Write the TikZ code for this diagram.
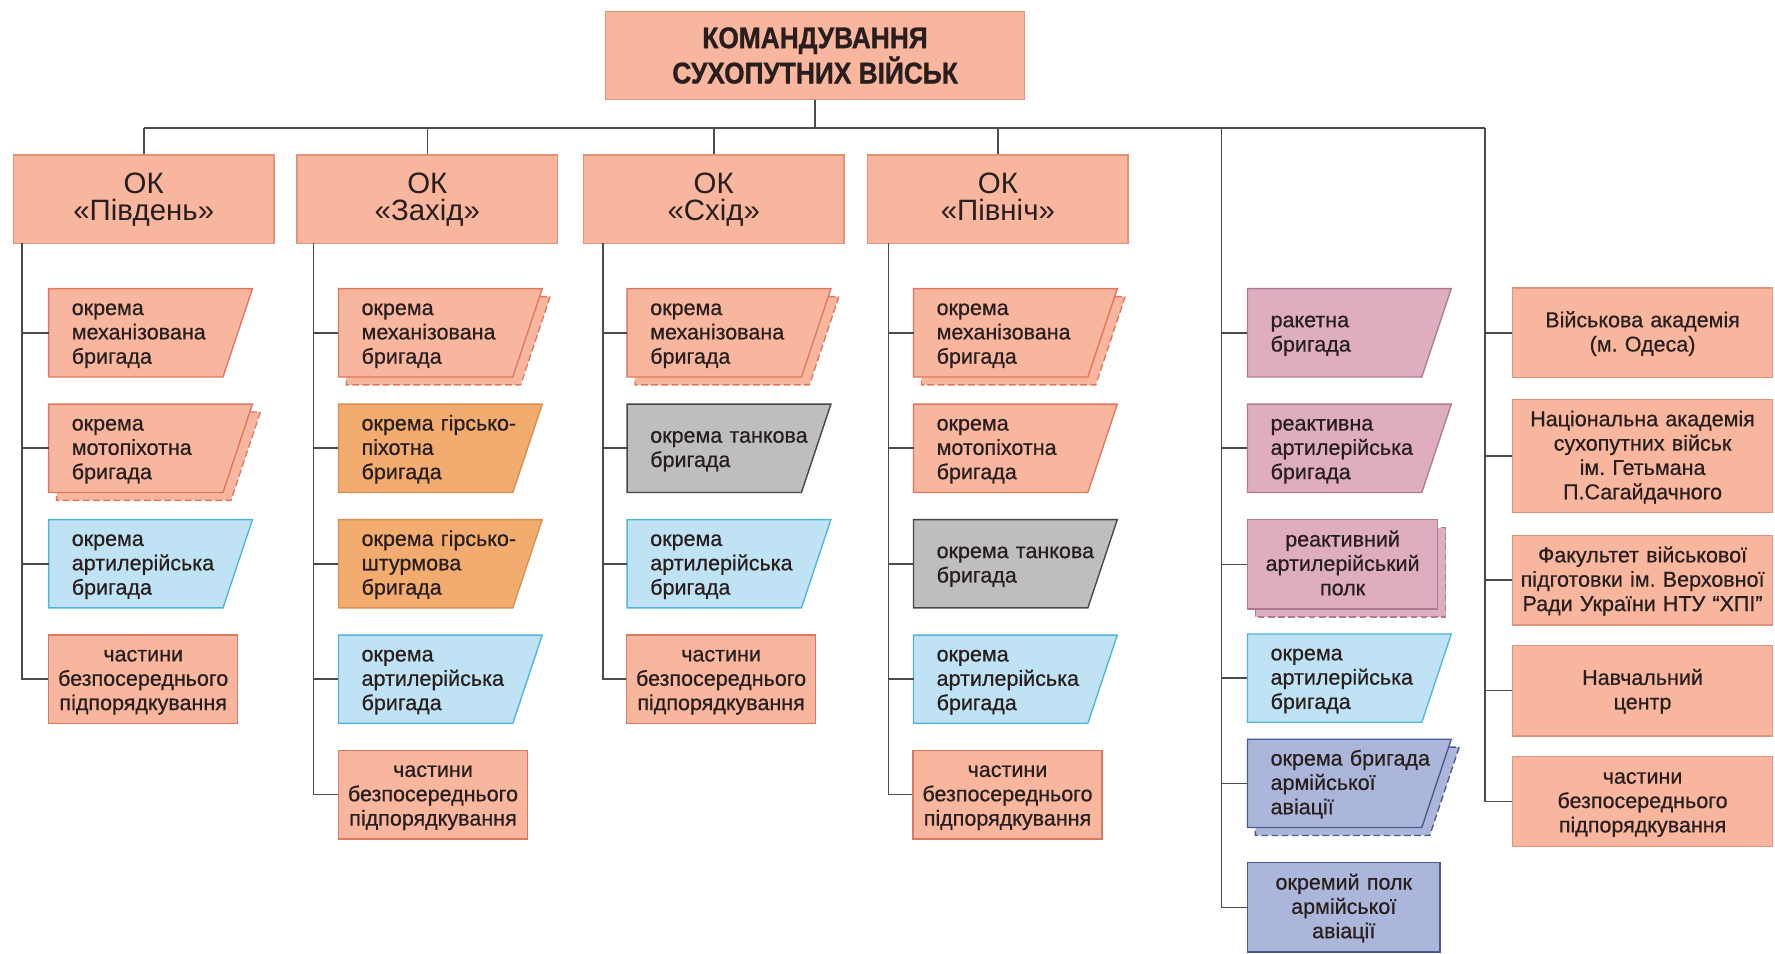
\documentclass[tikz,border=0pt]{standalone}
\usepackage{fontspec}
\setmainfont{Liberation Sans}
\newfontfamily\titlefont[FakeStretch=0.88, FakeBold=1]{Liberation Sans Bold}
\newfontfamily\boxfont[FakeBold=0.6]{Liberation Sans}
\frenchspacing

\begin{document}
\begin{tikzpicture}[x=0.5pt, y=-0.5pt,
    conn/.style={draw=linec, line width=0.7pt},
    salmb/.style={fill=salm, draw=salmd, line width=0.6pt},
    oranb/.style={fill=oran, draw=orand, line width=0.6pt},
    grayb/.style={fill=gray1, draw=grayd, line width=0.6pt},
    blueb/.style={fill=blue1, draw=blued, line width=0.6pt},
    pinkb/.style={fill=pink1, draw=pinkd, line width=0.6pt},
    slateb/.style={fill=slate1, draw=slated, line width=0.6pt},
    shd/.style={shift={(7,7)}, dash pattern=on 3pt off 1.5pt},
    topbox/.style={fill=salm, draw=okd, line width=0.6pt, minimum width=185pt, minimum height=39pt,
        align=center, text=txtc, font={\titlefont\fontsize{13.2}{14}\selectfont}},
    okbox/.style={fill=salm, draw=okd, line width=0.6pt, minimum width=115pt, minimum height=39pt,
        align=center, text=txtc, font=\fontsize{13}{12}\selectfont, execute at end node={\vphantom{д}}},
    ptxt/.style={anchor=west, inner xsep=10pt, inner ysep=0pt, text width=74pt, align=left,
        text=txtc, font=\boxfont\fontsize{9.5}{10.75}\selectfont,
        execute at begin node={\rule{0pt}{9pt}}, execute at end node={\strut}},
    rbox/.style={minimum width=83.5pt, minimum height=39pt, inner xsep=1pt, inner ysep=0pt,
        text width=81.5pt, align=center, text=txtc, font=\boxfont\fontsize{9.5}{10.75}\selectfont,
        execute at begin node={\rule{0pt}{9pt}}, execute at end node={\strut}},
    abox/.style={fill=salm, draw=okd, line width=0.6pt, minimum width=115pt, inner xsep=0.5pt,
        inner ysep=0pt, text width=114pt, align=center, text=txtc,
        font=\boxfont\fontsize{9.5}{10.75}\selectfont,
        execute at begin node={\rule{0pt}{9pt}}, execute at end node={\strut}}]
    \definecolor{salm}{RGB}{248,182,158}
    \definecolor{salmd}{RGB}{222,118,96}
    \definecolor{okd}{RGB}{228,146,122}
    \definecolor{oran}{RGB}{242,172,112}
    \definecolor{orand}{RGB}{222,140,80}
    \definecolor{gray1}{RGB}{190,190,190}
    \definecolor{grayd}{RGB}{70,70,70}
    \definecolor{blue1}{RGB}{191,227,244}
    \definecolor{blued}{RGB}{80,180,222}
    \definecolor{pink1}{RGB}{222,174,192}
    \definecolor{pinkd}{RGB}{176,122,146}
    \definecolor{slate1}{RGB}{172,182,218}
    \definecolor{slated}{RGB}{74,90,140}
    \definecolor{linec}{RGB}{75,75,75}
    \definecolor{txtc}{RGB}{40,30,30}
    \useasboundingbox (0,0) rectangle (1568,842);
    % Command and operational commands
    \node[topbox] (top) at (720,49) {КОМАНДУВАННЯ\\СУХОПУТНИХ ВІЙСЬК};
    \node[okbox] (ok1) at (127,176) {ОК\\«Південь»};
    \node[okbox] (ok2) at (377.5,176) {ОК\\«Захід»};
    \node[okbox] (ok3) at (630.5,176) {ОК\\«Схід»};
    \node[okbox] (ok4) at (881.5,176) {ОК\\«Північ»};
    \coordinate (bus) at (720,113);
    \coordinate (tr) at (1079,113);
    \coordinate (ta) at (1312,113);
    \draw[conn] (top.south) -- (bus);
    \draw[conn] (ok1.north |- bus) -- (ta);
    \draw[conn] (ok1.north) -- (ok1.north |- bus) (ok2.north) -- (ok2.north |- bus)
        (ok3.north) -- (ok3.north |- bus) (ok4.north) -- (ok4.north |- bus);
    % OK "Pivden"
    \draw[salmb, shd] (43,357) -- ++(180,0) -- ++(-26,78) -- ++(-154,0) -- cycle;
    \draw[salmb] (43,255) -- ++(180,0) -- ++(-26,78) -- ++(-154,0) -- cycle;
    \draw[salmb] (43,357) -- ++(180,0) -- ++(-26,78) -- ++(-154,0) -- cycle;
    \draw[blueb] (43,459) -- ++(180,0) -- ++(-26,78) -- ++(-154,0) -- cycle;
    \node[ptxt] (pd1) at (43,294) {окрема\\механізована\\бригада};
    \node[ptxt] (pd2) at (43,396) {окрема\\мотопіхотна\\бригада};
    \node[ptxt] (pd3) at (43,498) {окрема\\артилерійська\\бригада};
    \node[rbox, salmb] (pd4) at (126.5,600) {частини\\безпосереднього\\підпорядкування};
    \coordinate (vpd) at (19.5,215);
    \draw[conn] (vpd) |- (pd1.west) (vpd) |- (pd2.west) (vpd) |- (pd3.west) (vpd) |- (pd4.west);
    % OK "Zakhid"
    \draw[salmb, shd] (299,255) -- ++(180,0) -- ++(-26,78) -- ++(-154,0) -- cycle;
    \draw[salmb] (299,255) -- ++(180,0) -- ++(-26,78) -- ++(-154,0) -- cycle;
    \draw[oranb] (299,357) -- ++(180,0) -- ++(-26,78) -- ++(-154,0) -- cycle;
    \draw[oranb] (299,459) -- ++(180,0) -- ++(-26,78) -- ++(-154,0) -- cycle;
    \draw[blueb] (299,561) -- ++(180,0) -- ++(-26,78) -- ++(-154,0) -- cycle;
    \node[ptxt] (zh1) at (299,294) {окрема\\механізована\\бригада};
    \node[ptxt] (zh2) at (299,396) {окрема гірсько-\\піхотна\\бригада};
    \node[ptxt] (zh3) at (299,498) {окрема гірсько-\\штурмова\\бригада};
    \node[ptxt] (zh4) at (299,600) {окрема\\артилерійська\\бригада};
    \node[rbox, salmb] (zh5) at (382.5,702) {частини\\безпосереднього\\підпорядкування};
    \coordinate (vzh) at (277,215);
    \draw[conn] (vzh) |- (zh1.west) (vzh) |- (zh2.west) (vzh) |- (zh3.west) (vzh) |- (zh4.west)
        (vzh) |- (zh5.west);
    % OK "Skhid"
    \draw[salmb, shd] (554,255) -- ++(180,0) -- ++(-26,78) -- ++(-154,0) -- cycle;
    \draw[salmb] (554,255) -- ++(180,0) -- ++(-26,78) -- ++(-154,0) -- cycle;
    \draw[grayb] (554,357) -- ++(180,0) -- ++(-26,78) -- ++(-154,0) -- cycle;
    \draw[blueb] (554,459) -- ++(180,0) -- ++(-26,78) -- ++(-154,0) -- cycle;
    \node[ptxt] (sh1) at (554,294) {окрема\\механізована\\бригада};
    \node[ptxt] (sh2) at (554,396) {окрема танкова\\бригада};
    \node[ptxt] (sh3) at (554,498) {окрема\\артилерійська\\бригада};
    \node[rbox, salmb] (sh4) at (637,600) {частини\\безпосереднього\\підпорядкування};
    \coordinate (vsh) at (532.5,215);
    \draw[conn] (vsh) |- (sh1.west) (vsh) |- (sh2.west) (vsh) |- (sh3.west) (vsh) |- (sh4.west);
    % OK "Pivnich"
    \draw[salmb, shd] (807,255) -- ++(180,0) -- ++(-26,78) -- ++(-154,0) -- cycle;
    \draw[salmb] (807,255) -- ++(180,0) -- ++(-26,78) -- ++(-154,0) -- cycle;
    \draw[salmb] (807,357) -- ++(180,0) -- ++(-26,78) -- ++(-154,0) -- cycle;
    \draw[grayb] (807,459) -- ++(180,0) -- ++(-26,78) -- ++(-154,0) -- cycle;
    \draw[blueb] (807,561) -- ++(180,0) -- ++(-26,78) -- ++(-154,0) -- cycle;
    \node[ptxt] (pn1) at (807,294) {окрема\\механізована\\бригада};
    \node[ptxt] (pn2) at (807,396) {окрема\\мотопіхотна\\бригада};
    \node[ptxt] (pn3) at (807,498) {окрема танкова\\бригада};
    \node[ptxt] (pn4) at (807,600) {окрема\\артилерійська\\бригада};
    \node[rbox, salmb] (pn5) at (890,702) {частини\\безпосереднього\\підпорядкування};
    \coordinate (vpn) at (785,215);
    \draw[conn] (vpn) |- (pn1.west) (vpn) |- (pn2.west) (vpn) |- (pn3.west) (vpn) |- (pn4.west)
        (vpn) |- (pn5.west);
    % Artillery and army aviation
    \draw[pinkb, shd] (1102,459) rectangle ++(168,79);
    \draw[slateb, shd] (1102,653) -- ++(180,0) -- ++(-26,78) -- ++(-154,0) -- cycle;
    \draw[pinkb] (1102,255) -- ++(180,0) -- ++(-26,78) -- ++(-154,0) -- cycle;
    \draw[pinkb] (1102,357) -- ++(180,0) -- ++(-26,78) -- ++(-154,0) -- cycle;
    \draw[blueb] (1102,560) -- ++(180,0) -- ++(-26,78) -- ++(-154,0) -- cycle;
    \draw[slateb] (1102,653) -- ++(180,0) -- ++(-26,78) -- ++(-154,0) -- cycle;
    \node[ptxt] (rg1) at (1102,294) {ракетна\\бригада};
    \node[ptxt] (rg2) at (1102,396) {реактивна\\артилерійська\\бригада};
    \node[rbox, pinkb, minimum width=84pt, minimum height=39.5pt] (rg3) at (1186,498.5) {реактивний\\артилерійський\\полк};
    \node[ptxt] (rg4) at (1102,599) {окрема\\артилерійська\\бригада};
    \node[ptxt] (rg5) at (1102,692) {окрема бригада\\армійської\\авіації};
    \node[rbox, slateb, minimum width=85pt, minimum height=39.5pt] (rg6) at (1187,801.5) {окремий полк\\армійської\\авіації};
    \draw[conn] (tr) |- (rg1.west) (tr) |- (rg2.west) (tr) |- (rg3.west) (tr) |- (rg4.west)
        (tr) |- (rg5.west) (tr) |- (rg6.west);
    % Academies and training
    \node[abox, minimum height=39.5pt] (ac1) at (1451,294) {Військова академія\\(м. Одеса)};
    \node[abox, minimum height=50pt] (ac2) at (1451,403) {Національна академія\\сухопутних військ\\ім. Гетьмана\\П.Сагайдачного};
    \node[abox, minimum height=39.5pt] (ac3) at (1451,512.5) {Факультет військової\\підготовки ім. Верховної\\Ради України НТУ “ХПІ”};
    \node[abox, minimum height=40pt] (ac4) at (1451,610) {Навчальний\\центр};
    \node[abox, minimum height=40pt] (ac5) at (1451,708) {частини\\безпосереднього\\підпорядкування};
    \draw[conn] (ta) |- (ac1.west) (ta) |- (ac2.west) (ta) |- (ac3.west) (ta) |- (ac4.west)
        (ta) |- (ac5.west);
\end{tikzpicture}
\end{document}
